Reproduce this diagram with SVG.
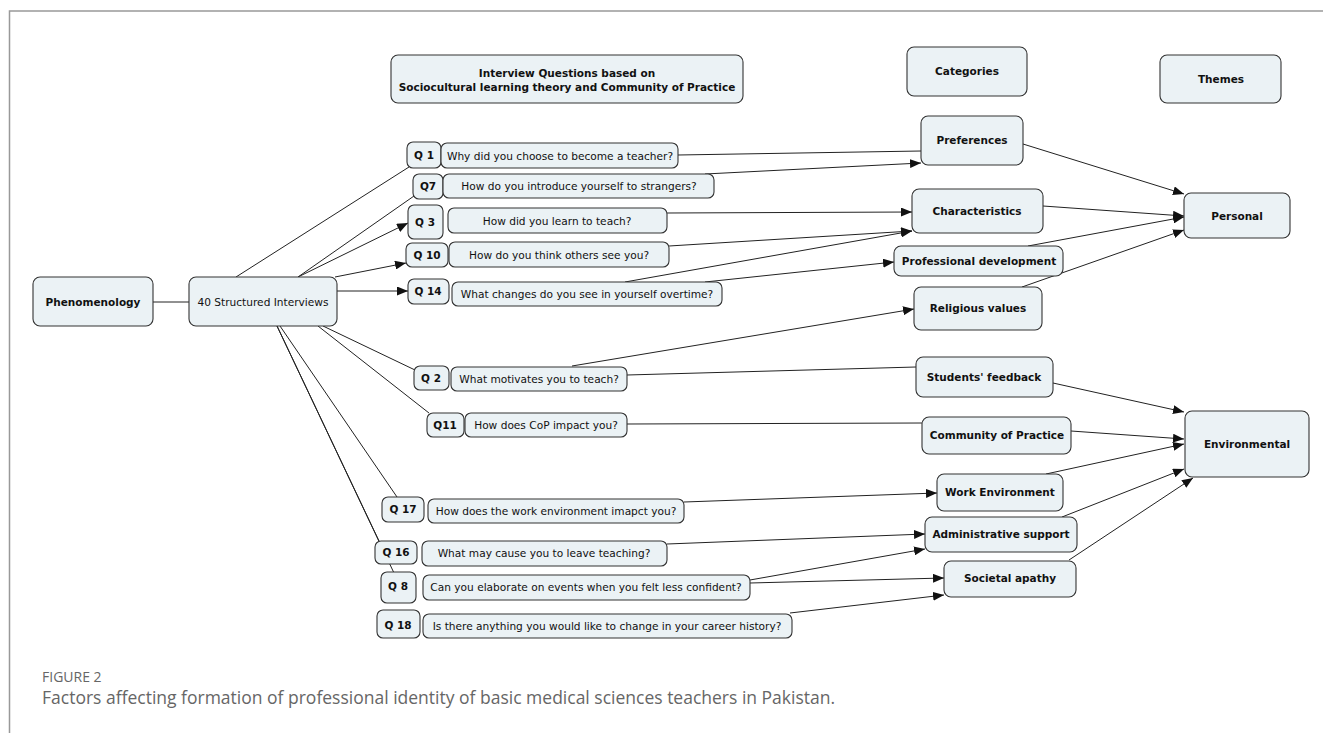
<svg xmlns="http://www.w3.org/2000/svg" width="1323" height="733" viewBox="0 0 1323 733">
<style>
.box{fill:#ebf2f5;stroke:#333;stroke-width:1.1}
.b{font-family:"DejaVu Sans",Verdana,sans-serif;font-size:10.5px;font-weight:bold;fill:#111;text-anchor:middle;dominant-baseline:central}
.n{font-family:"DejaVu Sans",Verdana,sans-serif;font-size:10.6px;fill:#111;text-anchor:middle;dominant-baseline:central}
.c line{stroke:#222;stroke-width:1}
.c .a{marker-end:url(#arr)}
.frame{stroke:#999;stroke-width:1.5;fill:none}
.cap1{font-family:"Open Sans",sans-serif;font-size:14px;fill:#666;dominant-baseline:central}
.cap2{font-family:"Open Sans",sans-serif;font-size:17.5px;fill:#666;dominant-baseline:central}
</style>
<defs>
<marker id="arr" markerWidth="11" markerHeight="9" refX="11" refY="4.5" orient="auto" markerUnits="userSpaceOnUse"><path d="M0,0 L11,4.5 L0,9 z" fill="#111"/></marker>
</defs>
<rect width="1323" height="733" fill="#fff"/>
<path class="frame" d="M9.5,733 V11 H1323"/>

<g class="c" id="connectors">
<line x1="153" y1="302" x2="189" y2="302"/>
<line x1="236" y1="277" x2="409" y2="167"/>
<line x1="298" y1="277" x2="414" y2="196"/>
<line class="a" x1="298" y1="277" x2="408" y2="223"/>
<line class="a" x1="335" y1="277" x2="406" y2="263"/>
<line class="a" x1="337" y1="291" x2="408" y2="291"/>
<line x1="323" y1="326" x2="415" y2="370"/>
<line x1="318" y1="326" x2="429" y2="413"/>
<line x1="280" y1="326" x2="397" y2="497"/>
<line x1="277" y1="326" x2="379" y2="541"/>
<line x1="277" y1="326" x2="394" y2="573"/>
<line x1="678" y1="155" x2="921" y2="151"/>
<line class="a" x1="705" y1="174" x2="921" y2="163"/>
<line class="a" x1="667" y1="213" x2="912" y2="212"/>
<line class="a" x1="669" y1="246" x2="912" y2="231"/>
<line class="a" x1="625" y1="282" x2="912" y2="231"/>
<line class="a" x1="705" y1="282" x2="894" y2="262"/>
<line class="a" x1="572" y1="366" x2="914" y2="309"/>
<line x1="627" y1="375" x2="916" y2="367"/>
<line x1="627" y1="424" x2="922" y2="423"/>
<line class="a" x1="684" y1="502" x2="937" y2="493"/>
<line class="a" x1="667" y1="544" x2="925" y2="534"/>
<line class="a" x1="750" y1="580" x2="925" y2="549"/>
<line class="a" x1="750" y1="583" x2="944" y2="578"/>
<line class="a" x1="790" y1="613" x2="944" y2="595"/>
<line class="a" x1="1023" y1="144" x2="1184" y2="194"/>
<line class="a" x1="1043" y1="206" x2="1184" y2="216"/>
<line class="a" x1="1028" y1="246" x2="1184" y2="217"/>
<line class="a" x1="1022" y1="287" x2="1184" y2="230"/>
<line class="a" x1="1053" y1="383" x2="1184" y2="412"/>
<line class="a" x1="1071" y1="431" x2="1184" y2="439"/>
<line class="a" x1="1046" y1="474" x2="1184" y2="444"/>
<line class="a" x1="1062" y1="517" x2="1184" y2="469"/>
<line class="a" x1="1069" y1="560" x2="1193" y2="478"/>
</g>

<g id="hdr-questions"><rect class="box" x="391" y="55" width="352" height="48" rx="7"/>
<text class="b" x="567" y="73">Interview Questions based on</text>
<text class="b" x="567" y="87">Sociocultural learning theory and Community of Practice</text></g>
<g id="hdr-categories"><rect class="box" x="907" y="47" width="120" height="49" rx="7"/><text class="b" x="967" y="71">Categories</text></g>
<g id="hdr-themes"><rect class="box" x="1160" y="55" width="121" height="48" rx="7"/><text class="b" x="1221" y="79">Themes</text></g>

<g id="phenomenology"><rect class="box" x="33" y="277" width="120" height="49" rx="7"/><text class="b" x="93" y="302">Phenomenology</text></g>
<g id="interviews"><rect class="box" x="189" y="277" width="148" height="49" rx="7"/><text class="n" x="263" y="302">40 Structured Interviews</text></g>

<g id="q1"><rect class="box" x="407" y="142" width="34" height="26" rx="6"/><text class="b" x="424" y="155">Q 1</text>
<rect class="box" x="441" y="143" width="237" height="25" rx="6"/><text class="n" x="560" y="155.5">Why did you choose to become a teacher?</text></g>
<g id="q7"><rect class="box" x="413" y="174" width="30" height="25" rx="6"/><text class="b" x="428" y="186">Q7</text>
<rect class="box" x="443" y="174" width="271" height="24" rx="6"/><text class="n" x="579" y="186">How do you introduce yourself to strangers?</text></g>
<g id="q3"><rect class="box" x="408" y="205" width="35" height="34" rx="6"/><text class="b" x="425" y="222">Q 3</text>
<rect class="box" x="448" y="208" width="219" height="25" rx="6"/><text class="n" x="557" y="220.5">How did you learn to teach?</text></g>
<g id="q10"><rect class="box" x="406" y="243" width="42" height="24" rx="6"/><text class="b" x="427" y="255">Q 10</text>
<rect class="box" x="449" y="242" width="220" height="25" rx="6"/><text class="n" x="559" y="254.5">How do you think others see you?</text></g>
<g id="q14"><rect class="box" x="408" y="279" width="41" height="25" rx="6"/><text class="b" x="428" y="291">Q 14</text>
<rect class="box" x="452" y="282" width="270" height="24" rx="6"/><text class="n" x="587" y="294">What changes do you see in yourself overtime?</text></g>
<g id="q2"><rect class="box" x="414" y="366" width="35" height="24" rx="6"/><text class="b" x="431" y="378">Q 2</text>
<rect class="box" x="451" y="367" width="176" height="24" rx="6"/><text class="n" x="539" y="379">What motivates you to teach?</text></g>
<g id="q11"><rect class="box" x="427" y="413" width="37" height="24" rx="6"/><text class="b" x="445" y="425">Q11</text>
<rect class="box" x="465" y="413" width="162" height="24" rx="6"/><text class="n" x="546" y="425">How does CoP impact you?</text></g>
<g id="q17"><rect class="box" x="382" y="497" width="42" height="25" rx="6"/><text class="b" x="403" y="509">Q 17</text>
<rect class="box" x="428" y="499" width="256" height="24" rx="6"/><text class="n" x="556" y="511">How does the work environment imapct you?</text></g>
<g id="q16"><rect class="box" x="375" y="541" width="42" height="23" rx="6"/><text class="b" x="396" y="552">Q 16</text>
<rect class="box" x="422" y="541" width="245" height="25" rx="6"/><text class="n" x="544" y="553">What may cause you to leave teaching?</text></g>
<g id="q8"><rect class="box" x="381" y="572" width="35" height="31" rx="6"/><text class="b" x="398" y="586">Q 8</text>
<rect class="box" x="423" y="575" width="327" height="25" rx="6"/><text class="n" x="586" y="587">Can you elaborate on events when you felt less confident?</text></g>
<g id="q18"><rect class="box" x="377" y="610" width="43" height="28" rx="6"/><text class="b" x="398" y="625">Q 18</text>
<rect class="box" x="423" y="614" width="369" height="24" rx="6"/><text class="n" x="607" y="626">Is there anything you would like to change in your career history?</text></g>

<g id="preferences"><rect class="box" x="921" y="116" width="102" height="49" rx="7"/><text class="b" x="972" y="140">Preferences</text></g>
<g id="characteristics"><rect class="box" x="912" y="189" width="131" height="44" rx="7"/><text class="b" x="977" y="211">Characteristics</text></g>
<g id="prof-dev"><rect class="box" x="894" y="246" width="169" height="30" rx="7"/><text class="b" x="979" y="261">Professional development</text></g>
<g id="religious"><rect class="box" x="914" y="287" width="128" height="43" rx="7"/><text class="b" x="978" y="308">Religious values</text></g>
<g id="students-feedback"><rect class="box" x="916" y="357" width="137" height="40" rx="7"/><text class="b" x="984" y="377">Students' feedback</text></g>
<g id="cop"><rect class="box" x="922" y="417" width="149" height="37" rx="7"/><text class="b" x="997" y="435">Community of Practice</text></g>
<g id="work-env"><rect class="box" x="937" y="474" width="126" height="37" rx="7"/><text class="b" x="1000" y="492">Work Environment</text></g>
<g id="admin"><rect class="box" x="925" y="517" width="152" height="35" rx="7"/><text class="b" x="1001" y="534">Administrative support</text></g>
<g id="societal"><rect class="box" x="944" y="561" width="132" height="36" rx="7"/><text class="b" x="1010" y="578">Societal apathy</text></g>

<g id="personal"><rect class="box" x="1184" y="193" width="106" height="45" rx="7"/><text class="b" x="1237" y="216">Personal</text></g>
<g id="environmental"><rect class="box" x="1185" y="411" width="124" height="66" rx="7"/><text class="b" x="1247" y="444">Environmental</text></g>

<text class="cap1" x="42" y="676">FIGURE 2</text>
<text class="cap2" x="42" y="697">Factors affecting formation of professional identity of basic medical sciences teachers in Pakistan.</text>
</svg>
